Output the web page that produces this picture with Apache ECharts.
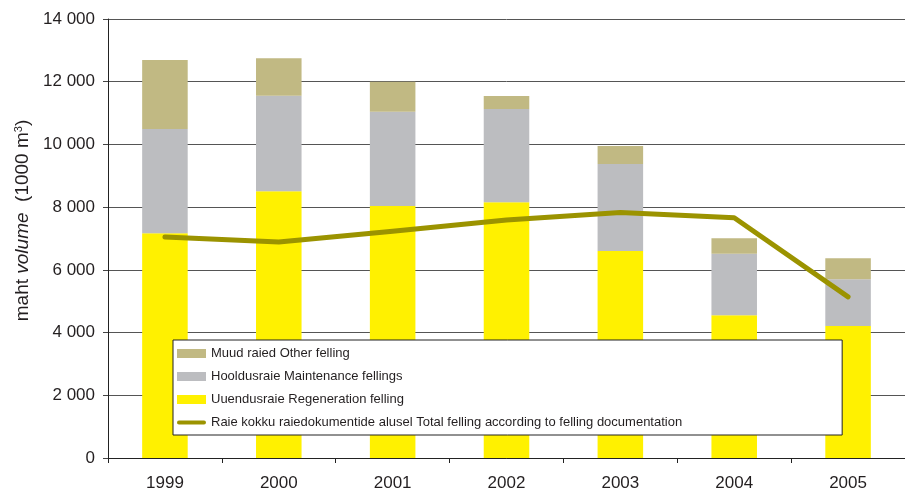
<!DOCTYPE html>
<html>
<head>
<meta charset="utf-8">
<script src="https://cdn.jsdelivr.net/npm/echarts@6/dist/echarts.min.js"></script>
<style>html,body{margin:0;padding:0;background:#fff;}#chart{width:905px;height:493px;}</style>
</head>
<body>
<div id="chart"></div>
<script>
const years = ['1999', '2000', '2001', '2002', '2003', '2004', '2005'];
const regeneration = [7170, 8510, 8040, 8160, 6600, 4550, 4210];
const maintenance = [3320, 3040, 3000, 2970, 2775, 1960, 1490];
const other = [2200, 1200, 960, 415, 575, 500, 670];
const totalDocs = [7050, 6890, 7230, 7590, 7830, 7660, 5140];
const yTicks = [0, 2000, 4000, 6000, 8000, 10000, 12000, 14000];

const names = [
  'Muud raied Other felling',
  'Hooldusraie Maintenance fellings',
  'Uuendusraie Regeneration felling',
  'Raie kokku raiedokumentide alusel Total felling according to felling documentation'
];
const textColor = '#231F20';
const font = 'Liberation Sans, Arial, sans-serif';

const chart = echarts.init(document.getElementById('chart'), null, {renderer: 'canvas'});
chart.setOption({
  animation: false,
  backgroundColor: '#fff',
  textStyle: {fontFamily: font, color: textColor},
  grid: {left: 108, top: 19, bottom: 35, right: -9, containLabel: false},
  legend: {
    orient: 'vertical',
    left: 173,
    top: 340,
    backgroundColor: '#fff',
    borderColor: '#222',
    borderWidth: 1,
    borderRadius: 0,
    padding: [6, 160, 5, 4],
    itemGap: 8,
    itemWidth: 29,
    itemHeight: 9,
    textStyle: {fontFamily: font, fontSize: 13, color: textColor, lineHeight: 15},
    data: [
      {name: names[0], icon: 'rect'},
      {name: names[1], icon: 'rect'},
      {name: names[2], icon: 'rect'},
      {name: names[3], icon: 'path://M2,0 L28,0 A2,2 0 0 1 28,4 L2,4 A2,2 0 0 1 2,0 Z'}
    ]
  },
  xAxis: {
    type: 'category',
    data: years,
    axisLine: {lineStyle: {color: '#222', width: 1}},
    axisTick: {show: true, length: 5, lineStyle: {color: '#222'}},
    axisLabel: {fontSize: 17, color: textColor, margin: 17, fontFamily: font},
    splitLine: {show: false}
  },
  yAxis: {
    type: 'value',
    min: 0,
    max: 14000,
    interval: 2000,
    axisLine: {show: true, lineStyle: {color: '#222', width: 1}},
    axisTick: {show: true, length: 5, lineStyle: {color: '#444'}},
    axisLabel: {
      fontSize: 17, color: textColor, margin: 13, fontFamily: font,
      formatter: v => yTicks.includes(v) ? String(v).replace(/\B(?=(\d{3})+(?!\d))/g, ' ') : ''
    },
    splitLine: {show: true, lineStyle: {color: '#555', width: 1}},
    name: '{a|maht }{b|volume}{a|  (1000 m}{s|3}{a|)}',
    nameLocation: 'middle',
    nameGap: 76,
    nameRotate: 90,
    nameTextStyle: {
      padding: [0, 0, 0, 36],
      rich: {
        a: {fontSize: 19, color: textColor, fontFamily: font},
        b: {fontSize: 19, color: textColor, fontStyle: 'italic', fontFamily: font},
        s: {fontSize: 11, color: textColor, fontFamily: font, verticalAlign: 'top', lineHeight: 11}
      }
    }
  },
  series: [
    {name: names[2], type: 'bar', stack: 'f', data: regeneration, barWidth: '40%',
     itemStyle: {color: '#FFF100'}, z: 2},
    {name: names[1], type: 'bar', stack: 'f', data: maintenance,
     itemStyle: {color: '#BCBDC0'}, z: 2},
    {name: names[0], type: 'bar', stack: 'f', data: other,
     itemStyle: {color: '#C1B983'}, z: 2},
    {name: names[3], type: 'line', data: totalDocs, symbol: 'none',
     lineStyle: {color: '#9B9300', width: 5, cap: 'round', join: 'round'},
     itemStyle: {color: '#9B9300'}, z: 3}
  ]
});
</script>
</body>
</html>
